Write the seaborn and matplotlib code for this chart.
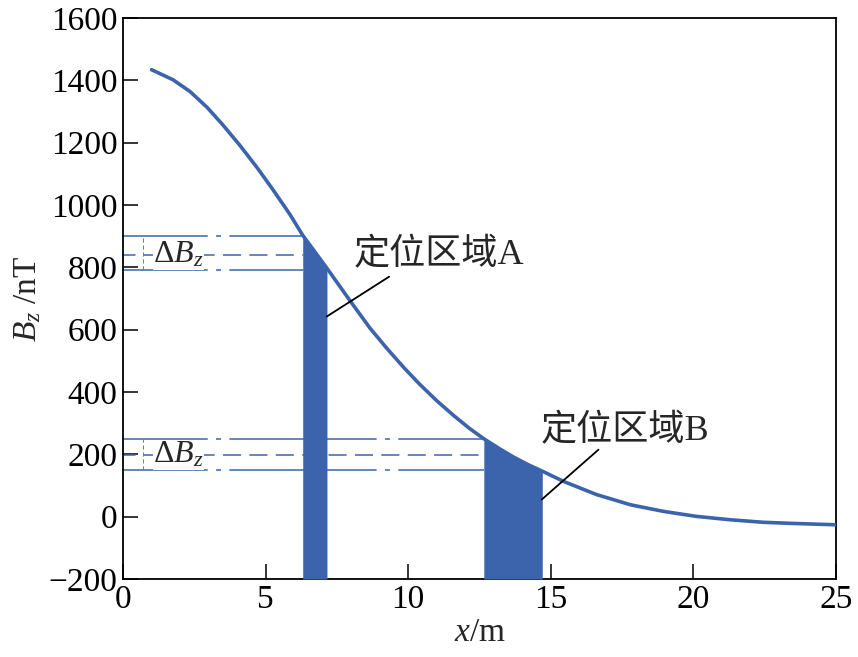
import numpy as np
import pandas as pd
import matplotlib
matplotlib.use("Agg")
import matplotlib.pyplot as plt
import seaborn as sns

# ---- data ----
x_m = [1.0, 1.75, 2.35, 2.95, 3.5, 4.1, 4.7, 5.25, 5.85, 6.3, 7.15, 7.95,
       8.65, 9.25, 9.85, 10.4, 11.0, 11.6, 12.15, 12.65, 13.2, 13.7, 14.2,
       14.7, 15.45, 16.6, 17.8, 18.95, 20.1, 21.3, 22.45, 23.6, 25.0]
bz_nT = [1434, 1402, 1364, 1313, 1257, 1191, 1120, 1050, 970, 903, 797, 694,
         606, 540, 478, 425, 372, 324, 283, 250, 218, 191, 167,
         146, 113, 71, 38, 17, 1, -10, -18, -22, -26]

region_a = (6.3, 7.15)
region_b = (12.65, 14.7)
levels_a = [900, 840, 790]   # upper, middle, lower
levels_b = [250, 198, 150]
xticks = [0, 5, 10, 15, 20, 25]
yticks = [-200, 0, 200, 400, 600, 800, 1000, 1200, 1400, 1600]
label_a = "定位区域A"
label_b = "定位区域B"

BLUE = "#3b64ad"

sns.set_style("ticks")
plt.rcParams["font.family"] = ["Liberation Serif", "Noto Sans CJK SC"]
plt.rcParams["mathtext.fontset"] = "custom"
plt.rcParams["mathtext.rm"] = "Liberation Serif"
plt.rcParams["mathtext.it"] = "Liberation Serif:italic"
plt.rcParams["lines.scale_dashes"] = False

fig = plt.figure(figsize=(8.58, 6.57), dpi=100)
ax = fig.add_axes([0.1434, 0.1187, 0.8310, 0.8539])

df = pd.DataFrame({"x": x_m, "Bz": bz_nT})

# reference lines
dashdot = (45, (106, 6, 3.6, 6))
dashed = (4, (13, 6))
for lev_set, xend in ((levels_a, region_a[0]), (levels_b, region_b[0])):
    ax.plot([0, xend], [lev_set[0]] * 2, color=BLUE, lw=1.1, ls=dashdot, zorder=2)
    ax.plot([0, xend], [lev_set[2]] * 2, color=BLUE, lw=1.1, ls=dashdot, zorder=2)
    ax.plot([0, xend], [lev_set[1]] * 2, color=BLUE, lw=1.1, ls=dashed, zorder=2)
    ax.plot([0.69, 0.69], [lev_set[2], lev_set[0]], color="#e8494f", lw=0.7,
            ls=(0, (3, 2)), zorder=3)
    ax.text(1.05, lev_set[1], r"$\Delta B_z$", fontsize=23, va="center", ha="left",
            zorder=4, bbox=dict(facecolor="white", edgecolor="none", pad=0.3))

# filled regions under the curve
xa = np.array(x_m)
ya = np.array(bz_nT)
for lo, hi in (region_a, region_b):
    m = (xa >= lo - 1e-9) & (xa <= hi + 1e-9)
    ax.fill_between(xa[m], -200, ya[m], color=BLUE, lw=0, zorder=5)

sns.lineplot(data=df, x="x", y="Bz", ax=ax, color=BLUE, lw=2.6, zorder=6)

# annotations
ax.text(8.1, 840, label_a, fontsize=26, va="center", ha="left", zorder=7)
ax.plot([7.14, 9.33], [642, 770], color="black", lw=1.3, zorder=7)
ax.text(14.65, 274, label_b, fontsize=26, va="center", ha="left", zorder=7)
ax.plot([14.68, 16.67], [55, 215], color="black", lw=1.3, zorder=7)

ax.set_xlim(0, 25)
ax.set_ylim(-200, 1600)
ax.set_xticks(xticks)
ax.set_yticks(yticks)
ax.set_yticklabels([("\u2212" + str(-v)) if v < 0 else str(v) for v in yticks])
ax.tick_params(direction="in", length=11, width=1.1, labelsize=24, pad=4,
               colors="black")
for s in ax.spines.values():
    s.set_visible(True)
    s.set_linewidth(1.3)
    s.set_color("black")

ax.set_xlabel(r"$x$/m", fontsize=24, labelpad=2)
ax.set_ylabel(r"$B_z$ /nT", fontsize=24, labelpad=4)

fig.savefig("out.png", dpi=100)
